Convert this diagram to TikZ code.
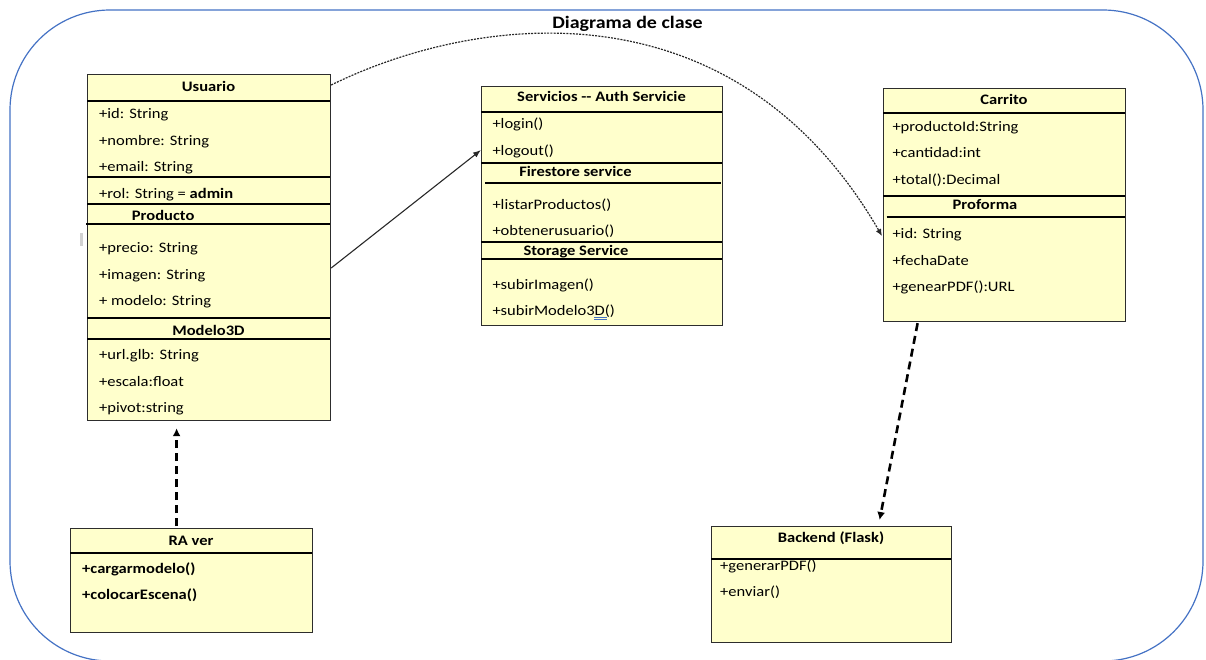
\documentclass[tikz,border=0pt]{standalone}
\usepackage{fontspec}
\setmainfont{Carlito}[FakeStretch=1.14]
\usetikzlibrary{arrows.meta,calc}
\definecolor{boxfill}{RGB}{255,255,204}
\definecolor{framecol}{RGB}{68,114,196}
\definecolor{edgecol}{RGB}{45,45,45}
\definecolor{linkcol}{RGB}{40,40,40}

\begin{document}
\begin{tikzpicture}[x=1pt,y=-1pt,
  cls/.style={draw=edgecol, line width=1.2pt, fill=boxfill, inner sep=0pt, anchor=north west},
  sep/.style={line width=2pt, black},
  item/.style={anchor=base west, inner sep=0pt, font=\fontsize{14.5}{17}\selectfont},
  bitem/.style={anchor=base west, inner sep=0pt, font=\fontsize{14.5}{17}\selectfont\bfseries},
  head/.style={anchor=base, inner sep=0pt, font=\fontsize{14.5}{17}\selectfont\bfseries},
  title/.style={anchor=base, inner sep=0pt, font=\fontsize{17.5}{20}\selectfont\bfseries},
  dotlink/.style={linkcol, line width=1.2pt, dash pattern=on 2pt off 1.2pt, -{Latex[length=7pt,width=6pt]}},
  solidlink/.style={linkcol, line width=1.1pt, -{Latex[length=8pt,width=6pt]}},
  dashlink/.style={black, line width=2.6pt, dash pattern=on 8pt off 5pt, -{Latex[length=8pt,width=8pt]}}
]
\useasboundingbox (0,0) rectangle (1206,659);

% outer frame
\draw[framecol, line width=1.2pt, rounded corners=100pt] (10,10) rectangle (1203,661);
\node[title] (titulo) at (627.5,28) {Diagrama de clase};

% ---------- Usuario / Producto / Modelo3D ----------
\node[cls, minimum width=243pt, minimum height=346pt] (usuario) at (87,74) {};
\node[head] (u-h) at (208.5,91) {Usuario};
\draw[sep] (87,100.7) -- (330,100.7);
\node[item] (u-id) at (99,118.3) {+id: String};
\node[item] (u-nom) at (99,145) {+nombre: String};
\node[item] (u-mail) at (99,171.7) {+email: String};
\draw[sep] (87,176.7) -- (330,176.7);
\node[item] (u-rol) at (99,198.3) {+rol: String = \textbf{admin}};
\draw[sep] (87,204.3) -- (330,204.3);
\node[bitem] (p-h) at (131.7,220.5) {Producto};
\draw[sep] (86,223.7) -- (330,223.7);
\node[item] (p-pre) at (99,252.3) {+precio: String};
\node[item] (p-img) at (99,279) {+imagen: String};
\node[item] (p-mod) at (99,305.7) {+ modelo: String};
\draw[sep] (87,318.3) -- (330,318.3);
\node[head] (m-h) at (208.5,335.5) {Modelo3D};
\draw[sep] (87,339.3) -- (330,339.3);
\node[item] (m-url) at (99,359.3) {+url.glb: String};
\node[item] (m-esc) at (99,386) {+escala:float};
\node[item] (m-piv) at (99,412.7) {+pivot:string};
\fill[gray!35] (80,233) rectangle (83,246);

% ---------- Servicios ----------
\node[cls, minimum width=241pt, minimum height=239pt] (servicios) at (481,86) {};
\node[head] (s-h) at (601.5,101.7) {Servicios -{}- Auth Servicie};
\draw[sep] (481,112.3) -- (722,112.3);
\node[item] (s-login) at (492.3,128.5) {+login()};
\node[item] (s-logout) at (492.3,155.7) {+logout()};
\draw[sep] (481,163.3) -- (722,163.3);
\node[head] (f-h) at (575.5,176) {Firestore service};
\draw[sep] (485,182.7) -- (721,182.7);
\node[item] (f-list) at (492.3,209.3) {+listarProductos()};
\node[item] (f-obt) at (492.3,235.7) {+obtenerusuario()};
\draw[sep] (481,241.7) -- (722,241.7);
\node[head] (st-h) at (576,255) {Storage Service};
\draw[sep] (481,259.3) -- (722,259.3);
\node[item] (st-img) at (492.3,289.3) {+subirImagen()};
\node[item] (st-mod) at (492.3,315.7) {+subirModelo3D()};
\draw[framecol, line width=0.7pt] (594,317.3) -- (607,317.3) (594,319.3) -- (607,319.3);

% ---------- Carrito / Proforma ----------
\node[cls, minimum width=242pt, minimum height=233pt] (carrito) at (883,88) {};
\node[head] (c-h) at (1004,104) {Carrito};
\draw[sep] (883,113.3) -- (1125,113.3);
\node[item] (c-prod) at (892.3,131.7) {+productoId:String};
\node[item] (c-cant) at (892.3,157.7) {+cantidad:int};
\node[item] (c-tot) at (892.3,184.3) {+total():Decimal};
\draw[sep] (883,195.7) -- (1125,195.7);
\node[head] (pf-h) at (985,209) {Proforma};
\draw[sep] (886.7,216.7) -- (1125,216.7);
\node[item] (pf-id) at (892.3,238.3) {+id: String};
\node[item] (pf-fec) at (892.3,265) {+fechaDate};
\node[item] (pf-pdf) at (892.3,291.7) {+genearPDF():URL};

% ---------- RA ver ----------
\node[cls, minimum width=242pt, minimum height=104pt] (ra) at (70,528) {};
\node[head] (ra-h) at (191,545) {RA ver};
\draw[sep] (70,553.3) -- (312,553.3);
\node[bitem] (ra-carg) at (82,573) {+cargarmodelo()};
\node[bitem] (ra-col) at (82,599) {+colocarEscena()};

% ---------- Backend ----------
\node[cls, minimum width=240pt, minimum height=116pt] (backend) at (711,526) {};
\node[head] (b-h) at (831,542.5) {Backend (Flask)};
\draw[sep] (711,558.5) -- (951,558.5);
\node[item] (b-gen) at (720,570) {+generarPDF()};
\node[item] (b-env) at (720,596) {+enviar()};

% ---------- connectors ----------
\draw[dotlink] ($(usuario.north east)+(0,11)$) .. controls (480,12) and (735,-18) .. ($(carrito.north west)+(-1,148)$);
\draw[solidlink] ($(usuario.north east)+(0,194)$) -- ($(servicios.north west)+(0,64)$);
\draw[dashlink] ($(ra.north)+(-15,-2)$) -- ($(usuario.south)+(-32.5,7)$);
\draw[dashlink] ($(carrito.south)+(-87,1)$) -- ($(backend.north)+(48,-6)$);
\end{tikzpicture}
\end{document}
